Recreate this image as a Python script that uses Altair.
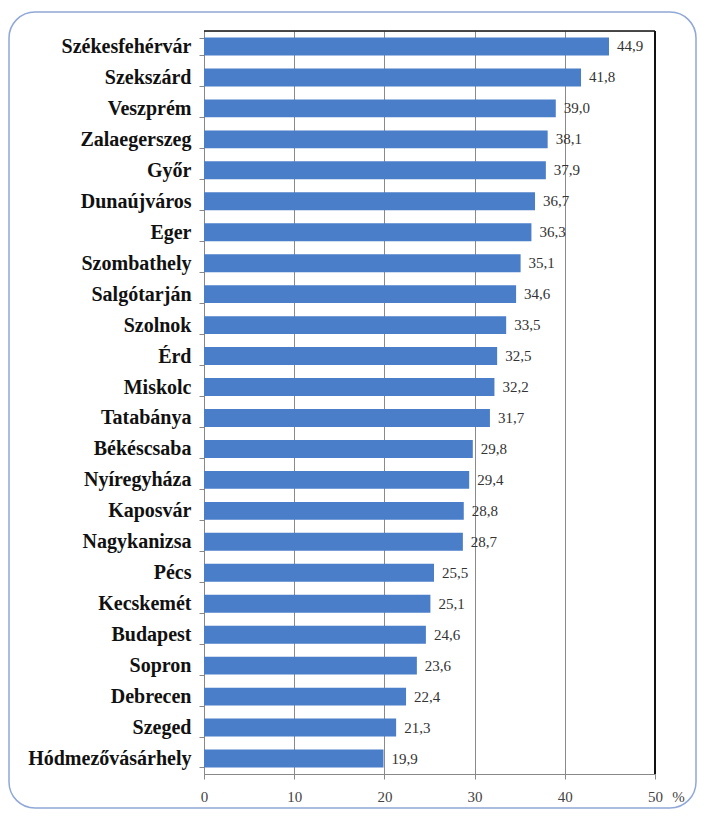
import altair as alt
import pandas as pd

cities = ["Székesfehérvár", "Szekszárd", "Veszprém", "Zalaegerszeg", "Győr",
          "Dunaújváros", "Eger", "Szombathely", "Salgótarján", "Szolnok", "Érd",
          "Miskolc", "Tatabánya", "Békéscsaba", "Nyíregyháza", "Kaposvár",
          "Nagykanizsa", "Pécs", "Kecskemét", "Budapest", "Sopron", "Debrecen",
          "Szeged", "Hódmezővásárhely"]
values = [44.9, 41.8, 39.0, 38.1, 37.9, 36.7, 36.3, 35.1, 34.6, 33.5, 32.5,
          32.2, 31.7, 29.8, 29.4, 28.8, 28.7, 25.5, 25.1, 24.6, 23.6, 22.4,
          21.3, 19.9]
x_ticks = [0, 10, 20, 30, 40, 50]

W, H = 451, 743
SERIF = "Liberation Serif, Times New Roman, serif"

df = pd.DataFrame({"city": cities, "value": values})

base = alt.Chart(df).transform_calculate(
    label="replace(format(datum.value, '.1f'), '.', ',')"
)

y_enc = alt.Y("city:N", sort=cities,
              scale=alt.Scale(paddingInner=0.42, paddingOuter=0.21),
              axis=alt.Axis(title=None, tickBand="extent", tickSize=5,
                            tickColor="#888888", domainColor="#888888",
                            labelFont=SERIF, labelFontSize=20,
                            labelFontWeight="bold", labelColor="#111111",
                            labelPadding=8, grid=False))

x_enc = alt.X("value:Q", scale=alt.Scale(domain=[0, 50], nice=False),
              axis=alt.Axis(values=x_ticks, title="%", grid=True,
                            gridColor="#8a8a8a", gridWidth=1,
                            domainColor="#888888", tickColor="#888888",
                            tickSize=5, labelFont=SERIF, labelFontSize=15,
                            labelColor="#444444", labelPadding=10,
                            labelFlush=False,
                            titleFont=SERIF, titleFontSize=15,
                            titleFontWeight="normal", titleColor="#444444",
                            titleX=474, titleY=22, titleAlign="center",
                            titleBaseline="middle"))

bars = base.mark_bar(color="#4a7ec8").encode(x=x_enc, y=y_enc)

texts = base.mark_text(align="left", baseline="middle", dx=8, font=SERIF,
                       fontSize=15, color="#333333").encode(
    x="value:Q", y=alt.Y("city:N", sort=cities), text="label:N")

one = alt.Data(values=[{}])
top_rule = alt.Chart(one).mark_rule(color="#111111", strokeWidth=1.5).encode(
    x=alt.value(0), x2=alt.value(W), y=alt.value(0))
right_rule = alt.Chart(one).mark_rule(color="#111111", strokeWidth=2).encode(
    x=alt.value(W), y=alt.value(0), y2=alt.value(H))
border = alt.Chart(one).mark_rect(fill=None, stroke="#8fa8d8", strokeWidth=1.5,
                                  cornerRadius=26).encode(
    x=alt.value(-195), x2=alt.value(492), y=alt.value(-19), y2=alt.value(777))

chart = alt.layer(border, bars, texts, top_rule, right_rule).properties(
    width=W, height=H,
    autosize=alt.AutoSizeParams(type="none"),
    padding={"left": 196, "top": 23, "right": 43, "bottom": 36},
).configure_view(stroke=None).configure(background="white")

chart.save("out.html", embed_options={"renderer": "svg", "actions": False})
